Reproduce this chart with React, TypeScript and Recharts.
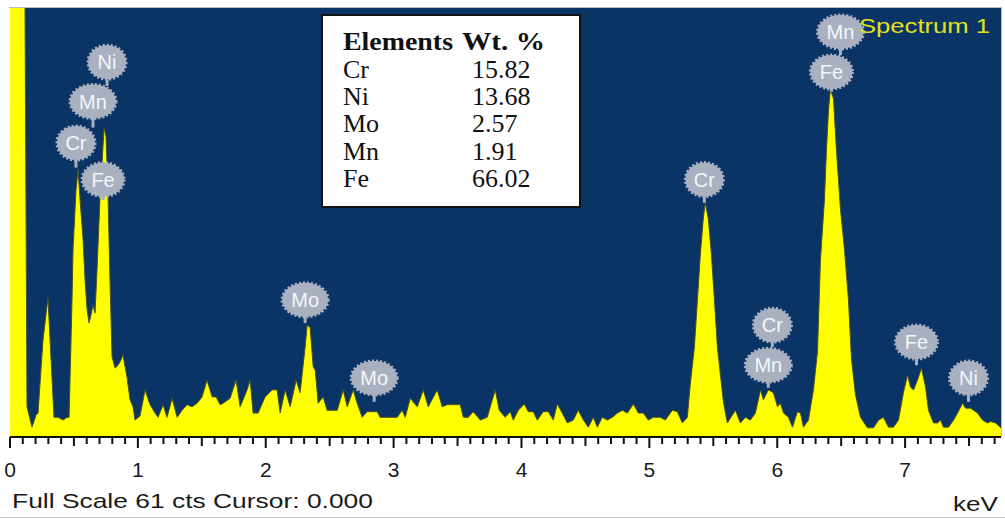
import React from 'react';
import { ComposedChart, Area, XAxis, YAxis, CartesianGrid, ReferenceDot, ReferenceLine } from 'recharts';

// EDS spectrum: energy (keV) and counts
const energyKeV = [
  0, 0.1, 0.115, 0.133, 0.172, 0.203, 0.219, 0.258, 0.297, 0.321, 0.344, 0.376, 0.415, 0.446, 0.462,
  0.485, 0.493, 0.516, 0.532, 0.548, 0.571, 0.587, 0.603, 0.618, 0.634, 0.649, 0.665, 0.681, 0.704,
  0.736, 0.751, 0.767, 0.782, 0.798, 0.822, 0.845, 0.869, 0.884, 0.9, 0.915, 0.939, 0.962, 0.978,
  1.017, 1.056, 1.095, 1.135, 1.158, 1.197, 1.228, 1.268, 1.307, 1.346, 1.385, 1.424, 1.463, 1.502,
  1.541, 1.581, 1.612, 1.643, 1.667, 1.721, 1.768, 1.8, 1.854, 1.878, 1.901, 1.94, 1.995, 2.05, 2.089,
  2.113, 2.152, 2.191, 2.238, 2.269, 2.308, 2.324, 2.347, 2.371, 2.387, 2.41, 2.449, 2.48, 2.559,
  2.606, 2.637, 2.684, 2.715, 2.754, 2.793, 2.872, 2.895, 3.028, 3.067, 3.091, 3.13, 3.185, 3.232,
  3.271, 3.341, 3.38, 3.419, 3.521, 3.545, 3.584, 3.623, 3.678, 3.732, 3.795, 3.826, 3.873, 3.912,
  3.936, 3.975, 4.022, 4.053, 4.092, 4.124, 4.171, 4.21, 4.249, 4.28, 4.319, 4.358, 4.405, 4.444,
  4.484, 4.523, 4.562, 4.593, 4.632, 4.671, 4.711, 4.75, 4.789, 4.828, 4.875, 4.914, 4.953, 4.992,
  5.031, 5.086, 5.125, 5.18, 5.219, 5.258, 5.297, 5.32, 5.352, 5.376, 5.399, 5.423, 5.438, 5.462,
  5.485, 5.509, 5.532, 5.556, 5.579, 5.61, 5.673, 5.712, 5.751, 5.79, 5.829, 5.869, 5.892, 5.931,
  5.97, 6.002, 6.025, 6.049, 6.088, 6.119, 6.158, 6.182, 6.205, 6.244, 6.283, 6.315, 6.338, 6.369,
  6.385, 6.401, 6.416, 6.44, 6.463, 6.495, 6.526, 6.557, 6.581, 6.612, 6.651, 6.706, 6.753, 6.792,
  6.831, 6.87, 6.909, 6.948, 6.987, 7.019, 7.042, 7.066, 7.097, 7.128, 7.16, 7.183, 7.222, 7.254,
  7.277, 7.3, 7.34, 7.379, 7.41, 7.449, 7.473, 7.512, 7.567, 7.606, 7.645, 7.668, 7.707, 7.75,
];

const countsCts = [
  70, 70, 70, 4.3, 1.4, 3.1, 3.4, 13.8, 19.8, 11.0, 2.8, 2.8, 2.4, 2.8, 2.8,
  19.5, 26.7, 35.0, 38.0, 33.7, 28.2, 22.3, 18.1, 16.2, 17.4, 18.8, 17.6, 24.0, 34.1,
  44.0, 42.7, 34.1, 22.3, 11.4, 9.8, 10.2, 11.0, 11.7, 10.0, 8.5, 5.3, 4.3, 2.4,
  3.0, 6.7, 4.6, 3.4, 2.8, 4.6, 2.8, 5.5, 2.8, 3.8, 4.6, 4.3, 4.8, 5.7,
  8.1, 5.7, 5.7, 4.6, 4.8, 5.5, 8.1, 4.3, 6.7, 8.1, 3.4, 3.4, 5.7, 6.7, 6.7,
  3.4, 6.7, 4.3, 8.1, 6.3, 12.8, 15.9, 15.6, 10.0, 9.5, 4.8, 5.7, 3.8, 3.8,
  6.7, 4.3, 6.7, 4.8, 2.8, 3.6, 3.6, 2.8, 2.8, 3.8, 2.8, 5.5, 4.3, 6.7,
  4.3, 6.7, 4.3, 4.6, 4.6, 2.8, 2.8, 3.6, 2.4, 2.8, 6.7, 3.8, 2.8, 3.6,
  2.4, 3.8, 4.7, 3.6, 3.6, 2.4, 3.6, 3.6, 2.4, 4.7, 3.4, 2.0, 2.4, 3.8,
  2.4, 1.4, 2.8, 1.4, 2.8, 2.4, 2.8, 3.4, 3.8, 3.4, 4.7, 3.4, 3.4, 2.4,
  2.8, 2.8, 2.4, 3.8, 3.6, 2.0, 2.8, 7.5, 12.8, 19.5, 26.0, 31.3, 33.3, 30.9,
  26.0, 19.5, 12.8, 8.8, 5.0, 2.0, 3.8, 2.0, 2.8, 2.4, 3.4, 6.7, 5.3, 6.7,
  6.3, 4.3, 4.8, 3.4, 2.8, 1.4, 3.6, 3.4, 1.4, 2.4, 6.7, 12.2, 25.2, 33.7,
  40.8, 46.5, 49.5, 48.1, 40.8, 32.3, 26.6, 19.5, 11.0, 6.0, 2.8, 1.3, 1.3, 2.4,
  2.8, 1.4, 1.4, 2.4, 6.3, 8.8, 7.1, 6.7, 8.1, 9.8, 7.1, 3.8, 2.0, 2.0,
  2.4, 1.4, 1.4, 2.4, 3.4, 4.8, 4.1, 4.1, 3.4, 2.4, 2.0, 2.2, 2.0, 1.3,
];

// 0.1 keV tick marks, labels only on whole keV
const axisTicks = Array.from({ length: 78 }, (_, i) => i / 10);

// element markers: label, energy, balloon level, stem tip level (counts)
const peakElements = ['Ni', 'Mn', 'Cr', 'Fe', 'Mo', 'Mo', 'Cr', 'Mn', 'Fe', 'Cr', 'Mn', 'Fe', 'Ni'];
const peakKeV = [0.759, 0.649, 0.516, 0.728, 2.308, 2.848, 5.43, 6.495, 6.424, 5.962, 5.93, 7.089, 7.496];
const peakLabelCts = [53.3, 47.7, 41.8, 36.6, 19.5, 8.4, 36.6, 57.6, 51.9, 15.9, 10.2, 13.5, 8.4];
const peakTipCts = [49.9, 44.0, 38.3, 33.7, 16.2, 5.0, 33.3, 54.3, 49.1, 12.8, 7.0, 10.2, 5.0];

const tableElements = ['Cr', 'Ni', 'Mo', 'Mn', 'Fe'];
const tableWt = ['15.82', '13.68', '2.57', '1.91', '66.02'];

const data = energyKeV.map((e, i) => ({ keV: e, counts: countsCts[i] }));

const SANS = 'Liberation Sans, Arial, sans-serif';
const SERIF = 'Liberation Serif, Times New Roman, serif';
const BALLOON = '#a9b1c0';

function KevTick(props: any) {
  const { x, y, payload } = props;
  const tenth = Math.round(payload.value * 10);
  const major = tenth % 10 === 0;
  const len = major ? 11 : tenth % 5 === 0 ? 9 : 7;
  return (
    <g>
      <line x1={x} x2={x} y1={y} y2={y + len} stroke="#111" strokeWidth={2} />
      {major && (
        <text x={x} y={y + 40} textAnchor="middle" fontSize={21} fill="#1a1a1a" fontFamily={SANS}>
          {tenth / 10}
        </text>
      )}
    </g>
  );
}

function Balloon({ cx, cy, label }: any) {
  const rx = label === 'Mn' || label === 'Mo' ? 23 : label === 'Fe' ? 21 : 19;
  return (
    <g>
      <ellipse cx={cx} cy={cy} rx={rx} ry={17} fill={BALLOON} stroke={BALLOON} strokeWidth={3} strokeDasharray="2 2" />
      <text x={cx} y={cy + 7} textAnchor="middle" fontSize={20} fill="#f4f6fa" fontFamily={SANS}>
        {label}
      </text>
    </g>
  );
}

export default function App() {
  return (
    <div style={{ position: 'absolute', left: 0, top: 0, width: 1005, height: 519, background: '#fff', overflow: 'hidden' }}>
      <ComposedChart width={1005} height={519} data={data} margin={{ top: 8, right: 4, bottom: 0, left: 10 }}>
        <CartesianGrid fill="#0b3466" stroke="none" horizontal={false} vertical={false} />
        <XAxis
          dataKey="keV"
          type="number"
          domain={[0, 7.75]}
          allowDataOverflow
          ticks={axisTicks}
          interval={0}
          tick={(p: any) => <KevTick {...p} />}
          tickLine={false}
          tickSize={0}
          tickMargin={0}
          axisLine={{ stroke: '#111', strokeWidth: 2 }}
          height={82}
        />
        <YAxis
          type="number"
          domain={[0, 61]}
          allowDataOverflow
          width={0}
          tick={false}
          tickLine={false}
          axisLine={{ stroke: '#111', strokeWidth: 2 }}
        />
        <Area
          type="linear"
          dataKey="counts"
          stroke="#4a5222"
          strokeWidth={1}
          fill="#ffff00"
          fillOpacity={1}
          baseValue={0}
          isAnimationActive={false}
        />
        {peakElements.map((el, i) => (
          <ReferenceLine
            key={`stem-${i}`}
            segment={[
              { x: peakKeV[i], y: peakLabelCts[i] },
              { x: peakKeV[i], y: peakTipCts[i] },
            ]}
            stroke={BALLOON}
            strokeWidth={3}
          />
        ))}
        {peakElements.map((el, i) => (
          <ReferenceDot
            key={`dot-${i}`}
            x={peakKeV[i]}
            y={peakLabelCts[i]}
            r={18}
            shape={(p: any) => <Balloon cx={p.cx} cy={p.cy} label={el} />}
          />
        ))}
      </ComposedChart>
      <svg width={1005} height={519} style={{ position: 'absolute', left: 0, top: 0, pointerEvents: 'none' }}>
        <line x1={9} x2={1002} y1={7.5} y2={7.5} stroke="#b8bcc4" strokeWidth={1} />
        <line x1={1001.5} x2={1001.5} y1={7} y2={437} stroke="#b8bcc4" strokeWidth={1} />
        <line x1={0} x2={1005} y1={517.5} y2={517.5} stroke="#c8ccd2" strokeWidth={1} />
        <text x={859} y={33} fontSize={21} fill="#e2e21a" fontFamily={SANS} textLength={131} lengthAdjust="spacingAndGlyphs">
          Spectrum 1
        </text>
        <rect x={322} y={15} width={258} height={192} fill="#fff" stroke="#111" strokeWidth={2} />
        <text x={343} y={50} fontSize={26} fontWeight="bold" fill="#111" fontFamily={SERIF} textLength={110} lengthAdjust="spacingAndGlyphs">
          Elements
        </text>
        <text x={462} y={50} fontSize={26} fontWeight="bold" fill="#111" fontFamily={SERIF} textLength={83} lengthAdjust="spacingAndGlyphs">
          Wt. %
        </text>
        {tableElements.map((el, i) => (
          <g key={el}>
            <text x={343} y={78 + i * 27.2} fontSize={26} fill="#111" fontFamily={SERIF}>
              {el}
            </text>
            <text x={472} y={78 + i * 27.2} fontSize={26} fill="#111" fontFamily={SERIF}>
              {tableWt[i]}
            </text>
          </g>
        ))}
        <text x={12} y={508} fontSize={21} fill="#1a1a1a" fontFamily={SANS} textLength={361} lengthAdjust="spacingAndGlyphs">
          Full Scale 61 cts Cursor: 0.000
        </text>
        <text x={953} y={511} fontSize={21} fill="#1a1a1a" fontFamily={SANS} textLength={45} lengthAdjust="spacingAndGlyphs">
          keV
        </text>
      </svg>
    </div>
  );
}
